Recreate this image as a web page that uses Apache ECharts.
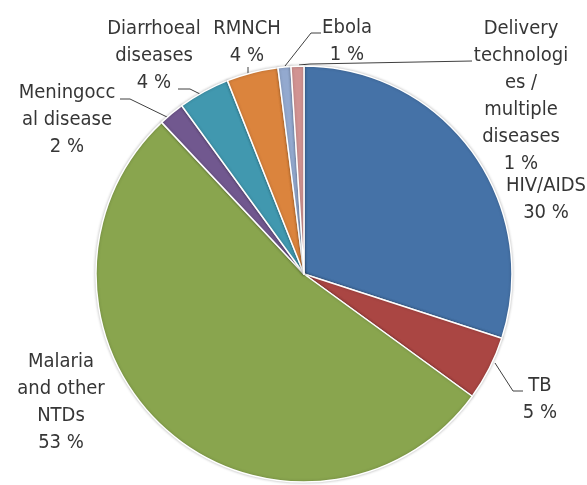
<!DOCTYPE html>
<html>
<head>
<meta charset="utf-8">
<script src="https://cdn.jsdelivr.net/npm/echarts@6/dist/echarts.min.js"></script>
<style>
  html, body { margin: 0; padding: 0; background: #ffffff; }
  #chart { width: 587px; height: 485px; }
</style>
</head>
<body>
<div id="chart"></div>
<script>
// Funding share by disease area (percent of total)
const categories = [
  'HIV/AIDS', 'TB', 'Malaria and other NTDs', 'Meningococcal disease',
  'Diarrhoeal diseases', 'RMNCH', 'Ebola', 'Delivery technologies / multiple diseases'
];
const shares = [30, 5, 53, 2, 4, 4, 1, 1];
// Wrapped label text, as it is printed beside each slice
const labelText = [
  'HIV/AIDS', 'TB', 'Malaria\nand other\nNTDs', 'Meningocc\nal disease',
  'Diarrhoeal\ndiseases', 'RMNCH', 'Ebola', 'Delivery\ntechnologi\nes /\nmultiple\ndiseases'
];
const colors = ['#4572A7', '#AA4643', '#89A54E', '#71588F', '#4198AF', '#DB843D', '#93A9CF', '#D19392'];

// Label placement (text block centre) and leader lines, per slice
const labelPlace = [
  { x: 546, y: 199, line: null },
  { x: 540, y: 399, line: [[495, 363], [513, 391], [523, 391]] },
  { x: 61, y: 402, line: null },
  { x: 67, y: 120, line: [[167, 117], [130, 99], [120, 99]] },
  { x: 154, y: 56, line: [[200, 94], [190, 89], [178, 89]] },
  { x: 247, y: 42, line: [[248, 74], [248, 70], [248, 67]] },
  { x: 347, y: 41, line: [[285, 66], [311, 33], [321, 33]] },
  { x: 521, y: 96, line: [[299, 65], [310, 64], [472, 61]] }
];

const FONT = '"DejaVu Sans Condensed", "Liberation Sans Narrow", sans-serif';

const chart = echarts.init(document.getElementById('chart'), null, { renderer: 'canvas' });

chart.setOption({
  animation: false,
  backgroundColor: '#ffffff',
  series: [{
    type: 'pie',
    center: [304, 274],
    radius: [0, 208],
    startAngle: 90,
    clockwise: true,
    avoidLabelOverlap: false,
    itemStyle: {
      borderColor: '#ffffff',
      borderWidth: 1.5,
      shadowBlur: 3,
      shadowColor: 'rgba(0,0,0,0.25)'
    },
    label: {
      show: true,
      position: 'outside',
      color: '#363636',
      fontFamily: FONT,
      fontSize: 20,
      lineHeight: 27,
      align: 'center',
      formatter: p => labelText[p.dataIndex] + '\n' + p.value + ' %'
    },
    labelLine: {
      show: true,
      lineStyle: { color: '#404040', width: 1 }
    },
    labelLayout: p => {
      const pl = labelPlace[p.dataIndex];
      const out = { x: pl.x, y: pl.y, align: 'center', verticalAlign: 'middle' };
      if (pl.line) out.labelLinePoints = pl.line;
      return out;
    },
    data: categories.map((name, i) => ({
      name: name,
      value: shares[i],
      itemStyle: { color: colors[i] },
      labelLine: { show: !!labelPlace[i].line }
    }))
  }]
});
</script>
</body>
</html>
